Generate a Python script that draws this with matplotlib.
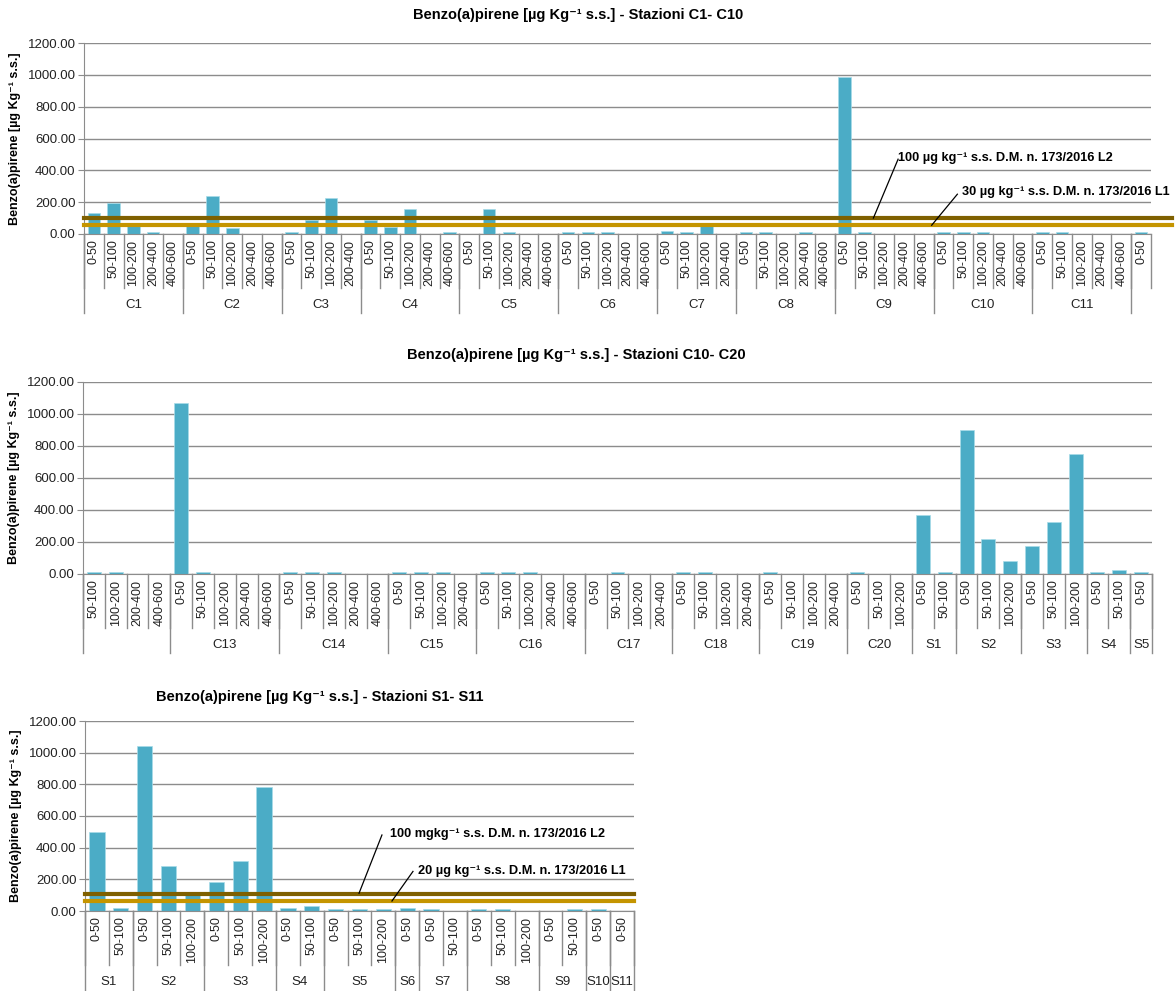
import numpy as np
import matplotlib
matplotlib.use("Agg")
import matplotlib.pyplot as plt

plt.rcParams['font.family'] = ['Liberation Sans', 'DejaVu Sans']

BAR = '#4BACC6'
L2_COL = '#7F6000'
L1_COL = '#C59500'
GRID = '#8C8C8C'

D5 = ['0-50', '50-100', '100-200', '200-400', '400-600']
D4 = D5[:4]
D3 = D5[:3]
D2 = D5[:2]
D1 = D5[:1]

# chart 1: stations C1-C10 (plus the truncated next one)
top_groups = ['C1', 'C2', 'C3', 'C4', 'C5', 'C6', 'C7', 'C8', 'C9', 'C10', 'C11', '']
top_depths = D5 + D5 + D4 + D5 + D5 + D5 + D4 + D5 + D5 + D5 + D5 + D1
top_sizes = [5, 5, 4, 5, 5, 5, 4, 5, 5, 5, 5, 1]
top_values = [135, 195, 70, 10, 0,
              50, 240, 35, 0, 0,
              10, 90, 225, 0,
              90, 45, 160, 0, 10,
              0, 160, 10, 0, 0,
              10, 10, 10, 0, 0,
              20, 10, 50, 0,
              10, 10, 0, 10, 0,
              985, 10, 0, 0, 0,
              10, 10, 10, 0, 0,
              10, 10, 0, 0, 0,
              10]

# chart 2: stations C10-C20
mid_groups = ['', 'C13', 'C14', 'C15', 'C16', 'C17', 'C18', 'C19', 'C20', 'S1', 'S2', 'S3', 'S4', 'S5']
mid_depths = D5[1:] + D5 + D5 + D4 + D5 + D4 + D4 + D4 + D3 + D2 + D3 + D3 + D2 + D1
mid_sizes = [4, 5, 5, 4, 5, 4, 4, 4, 3, 2, 3, 3, 2, 1]
mid_values = [10, 10, 0, 0,
              1068, 10, 0, 0, 0,
              10, 10, 10, 0, 0,
              10, 10, 10, 0,
              10, 10, 10, 0, 0,
              0, 10, 0, 0,
              10, 10, 0, 0,
              10, 0, 0, 0,
              10, 0, 0,
              368, 10,
              897, 220, 79,
              176, 324, 748,
              10, 25,
              10]

# chart 3: stations S1-S11
bot_groups = ['S1', 'S2', 'S3', 'S4', 'S5', 'S6', 'S7', 'S8', 'S9', 'S10', 'S11']
bot_depths = D2 + D3 + D3 + D2 + D3 + D1 + D2 + D3 + D2 + D1 + D1
bot_sizes = [2, 3, 3, 2, 3, 1, 2, 3, 2, 1, 1]
bot_values = [500, 17,
              1042, 286, 100,
              183, 315, 782,
              17, 32,
              10, 10, 10,
              17,
              10, 0,
              10, 10, 0,
              0, 10,
              10,
              0]

W, H = 1175, 991
fig = plt.figure(figsize=(W / 100, H / 100), dpi=100)


def make_axes(l, r, t, b):
    return fig.add_axes([l / W, 1 - b / H, (r - l) / W, (b - t) / H])


def draw_chart(ax, depths, values, groups, sizes, height_px, close_right=True):
    n = len(values)
    x = np.arange(n)
    ax.bar(x, values, width=0.64, color=BAR, edgecolor='#A8DCE8', linewidth=0.5, zorder=2)
    ax.set_xlim(-0.5, n - 0.5)
    ax.set_ylim(0, 1200)
    ax.set_yticks(np.arange(0, 1201, 200))
    ax.set_yticklabels([f'{v:.2f}' for v in np.arange(0, 1201, 200)], fontsize=9.5, color='#222222')
    ax.yaxis.grid(True, color=GRID, linewidth=1.0, zorder=0)
    ax.set_axisbelow(True)
    ax.set_xticks(x)
    ax.set_xticklabels(depths, rotation=90, fontsize=9, va='top', ha='center', color='#222222')
    ax.tick_params(axis='x', length=0, pad=4)
    ax.tick_params(axis='y', length=4, color=GRID, pad=2)
    for s in ['top', 'right']:
        ax.spines[s].set_visible(False)
    for s in ['left', 'bottom']:
        ax.spines[s].set_color(GRID)
    ax.set_ylabel('Benzo(a)pirene [µg Kg⁻¹ s.s.]', fontsize=9, fontweight='bold', labelpad=5)

    # multi-level category axis: separators and group names
    sub_d = 54 / height_px
    grp_d = 79 / height_px
    lab_y = -71 / height_px
    tr = ax.get_xaxis_transform()
    for i in range(n + 1):
        ax.plot([i - 0.5, i - 0.5], [0, -sub_d], transform=tr, color=GRID, lw=1, clip_on=False)
    start = 0
    edges = [0]
    for name, sz in zip(groups, sizes):
        if name:
            ax.text(start + sz / 2 - 0.5, lab_y, name, transform=tr, ha='center', va='center',
                    fontsize=9.5, color='#222222')
        start += sz
        edges.append(start)
    if not close_right:
        edges = edges[:-1]
    for e in edges:
        ax.plot([e - 0.5, e - 0.5], [0, -grp_d], transform=tr, color=GRID, lw=1, clip_on=False)


def threshold(ax, y, color, xmax):
    ax.axhline(y, xmin=0, xmax=xmax, color=color, linewidth=3, zorder=4, clip_on=False)


def note(ax, text, tx, ty, x0, y0, x1, y1):
    ax.text(tx, ty, text, fontsize=9.2, fontweight='bold', ha='left', va='center', zorder=6)
    ax.plot([x0, x1], [y0, y1], color='black', lw=0.9, zorder=6, clip_on=False)


# top chart
ax1 = make_axes(84, 1151, 43, 234)
draw_chart(ax1, top_depths, top_values, top_groups, top_sizes, 191, close_right=False)
threshold(ax1, 100, L2_COL, 1.02)
threshold(ax1, 55, L1_COL, 1.02)
note(ax1, '100 µg kg⁻¹ s.s. D.M. n. 173/2016 L2', 40.7, 480, 40.7, 470, 39.45, 100)
note(ax1, '30 µg kg⁻¹ s.s. D.M. n. 173/2016 L1', 43.95, 262, 43.7, 250, 42.4, 55)
fig.text(578 / W, 1 - 15 / H, 'Benzo(a)pirene [µg Kg⁻¹ s.s.] - Stazioni C1- C10',
         ha='center', va='center', fontsize=10.5, fontweight='bold')

# middle chart
ax2 = make_axes(83, 1152, 382, 574)
draw_chart(ax2, mid_depths, mid_values, mid_groups, mid_sizes, 192)
fig.text(576 / W, 1 - 355 / H, 'Benzo(a)pirene [µg Kg⁻¹ s.s.] - Stazioni C10- C20',
         ha='center', va='center', fontsize=10.5, fontweight='bold')

# bottom chart
ax3 = make_axes(85, 634, 721, 911)
draw_chart(ax3, bot_depths, bot_values, bot_groups, bot_sizes, 190)
threshold(ax3, 110, L2_COL, 1.0)
threshold(ax3, 63, L1_COL, 1.0)
note(ax3, '100 mgkg⁻¹ s.s. D.M. n. 173/2016 L2', 12.28, 486, 11.94, 480, 10.98, 112)
note(ax3, '20 µg kg⁻¹ s.s. D.M. n. 173/2016 L1', 13.45, 253, 13.24, 250, 12.36, 63)
fig.text(320 / W, 1 - 697 / H, 'Benzo(a)pirene [µg Kg⁻¹ s.s.] - Stazioni S1- S11',
         ha='center', va='center', fontsize=10.5, fontweight='bold')

fig.savefig('out.png', dpi=100)
